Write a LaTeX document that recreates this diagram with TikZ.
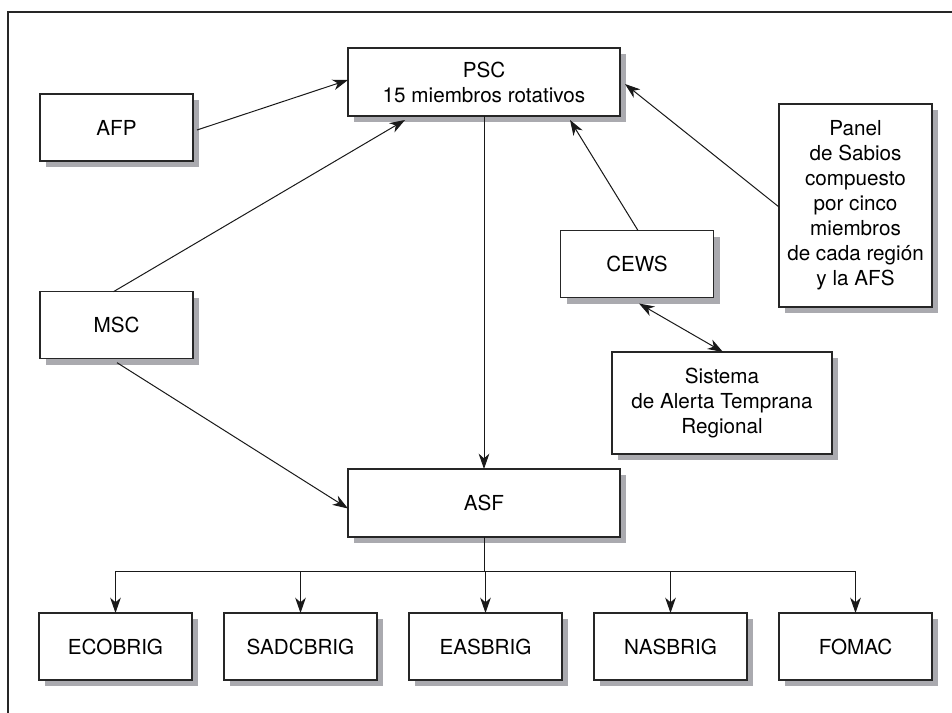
\documentclass[tikz,border=0pt]{standalone}
\usepackage{fontspec}
\setmainfont{TeX Gyre Heros}
\usetikzlibrary{positioning}
\usetikzlibrary{calc}
\usetikzlibrary{backgrounds}
\usetikzlibrary{arrows.meta}
\definecolor{shadowgray}{RGB}{170,170,175}
\tikzset{%
	>={Stealth[width=8pt,length=11.5pt,inset=3.5pt]},
	% Specifications for style of nodes:
	base/.style = {rectangle, draw=black!85, line width=0.9pt, fill=white, align=center, inner sep=2pt, outer sep=0pt, font=\fontsize{15.5}{18.75}\selectfont},
	unitbox/.style = {base, minimum width=114.75pt, minimum height=50.25pt},
	widebox/.style = {base, minimum width=204pt, minimum height=51pt},
	tallbox/.style = {base, minimum width=114.75pt, minimum height=152.25pt},
	alertbox/.style = {base, minimum width=165pt, minimum height=76.5pt},
	link/.style = {line width=0.75pt, black!90},
}

\begin{document}
\begin{tikzpicture}[x=0.75pt,y=-0.75pt]
		\useasboundingbox (0,0) rectangle (952,713);
		\draw [line width=2pt, black!85] (952,12) -- (8,12) -- (8,713);

		\node (PSC) [widebox] at (484,82) {PSC\\15 miembros rotativos};
		\node (AFP) [unitbox] at (116.5,127.5) {AFP};
		\node (MSC) [unitbox, below=98pt of AFP] {MSC};
		\node (ASF) [widebox, below=264.75pt of PSC] {ASF};

		\node (CEWS) [unitbox] at (637,264) {CEWS};
		\node (Panel) [tallbox] at (855.5,205.5) {Panel\\de Sabios\\compuesto\\por cinco\\miembros\\de cada región\\y la AFS};
		\node (Alert) [alertbox] at (722,403) {Sistema\\de Alerta Temprana\\Regional};

		\node (ECOBRIG) [unitbox] at (115.5,646.5) {ECOBRIG};
		\node (SADCBRIG) [unitbox, right=24pt of ECOBRIG] {SADCBRIG};
		\node (EASBRIG) [unitbox, right=24pt of SADCBRIG] {EASBRIG};
		\node (NASBRIG) [unitbox, right=24pt of EASBRIG] {NASBRIG};
		\node (FOMAC) [unitbox, right=24pt of NASBRIG] {FOMAC};

		% shadows behind the boxes
		\begin{pgfonlayer}{background}
			\foreach \nd in {PSC,AFP,MSC,ASF,CEWS,Panel,Alert,ECOBRIG,SADCBRIG,EASBRIG,NASBRIG,FOMAC}
				\fill [shadowgray] ($(\nd.south west)+(6,6)$) rectangle ($(\nd.north east)+(6,6)$);
		\end{pgfonlayer}

		\draw [link,->] ($(AFP.east)+(4,2.5)$) -- ($(PSC.west)+(0,-2)$);
		\draw [link,->] ($(MSC.north)+(-3,0)$) -- ($(PSC.south)+(-79,4)$);
		\draw [link,->] ($(CEWS.north)+(1,0)$) -- ($(PSC.south)+(86,4)$);
		\draw [link,->] ($(Panel.west)+(0,1.5)$) -- ($(PSC.east)+(5,2)$);
		\draw [link,<->] ($(CEWS.south)+(2,6)$) -- ($(Alert.north)+(1,0)$);

		\draw [link,->] (PSC) -- (ASF);
		\draw [link,->] ($(MSC.south)+(0.5,4)$) -- ($(ASF.west)+(0,5.5)$);

		\coordinate (bus) at ($(ASF.south)+(0,34)$);
		\draw [link] (ASF.south) -- (bus);
		\draw [link] (bus -| ECOBRIG.north) -- (bus -| FOMAC.north);
		\foreach \brig in {ECOBRIG,SADCBRIG,EASBRIG,NASBRIG,FOMAC}
			\draw [link,->] (bus -| \brig.north) -- (\brig.north);

     \end{tikzpicture}
\end{document}
